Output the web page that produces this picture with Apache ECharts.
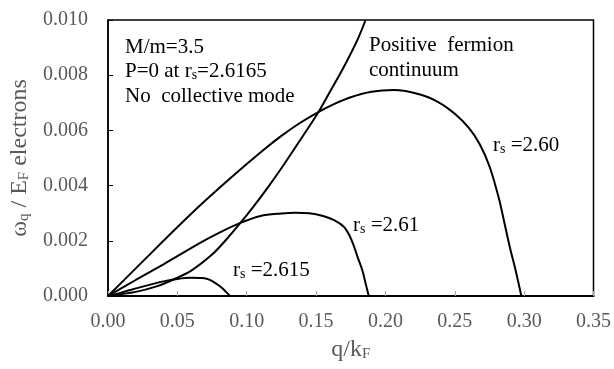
<!DOCTYPE html>
<html><head><meta charset="utf-8">
<script src="https://cdn.jsdelivr.net/npm/echarts@6/dist/echarts.min.js"></script>
<style>html,body{margin:0;padding:0;background:#fff}#c{width:614px;height:369px}</style>
</head><body><div id="c"></div>
<script>
// Data (x = q/kF, y = omega_q/EF)
var continuumX = [0, 0.02, 0.035, 0.0464, 0.06, 0.075, 0.085, 0.095, 0.105, 0.115, 0.125, 0.135, 0.1512, 0.16, 0.17, 0.18, 0.1857];
var continuumY = [0, 0.00015, 0.00035, 0.00058, 0.00092, 0.0015, 0.00203, 0.00262, 0.00325, 0.00392, 0.00463, 0.00538, 0.00662, 0.0074, 0.0083, 0.0093, 0.0100];

var rs260X = [0, 0.02, 0.04, 0.06, 0.08, 0.10, 0.1125, 0.125, 0.1375, 0.15, 0.1625, 0.175, 0.19, 0.206, 0.225, 0.239, 0.25, 0.26, 0.268, 0.275, 0.282, 0.286, 0.290, 0.294, 0.298];
var rs260Y = [0, 0.001, 0.002, 0.00298, 0.0039, 0.00478, 0.00531, 0.0058, 0.00624, 0.00662, 0.00694, 0.0072, 0.0074, 0.00746, 0.0073, 0.0070, 0.0066, 0.0061, 0.0055, 0.0047, 0.0035, 0.0026, 0.0017, 0.0009, 0];

var rs261X = [0, 0.02, 0.04, 0.068, 0.08, 0.095, 0.11, 0.125, 0.135, 0.145, 0.155, 0.163, 0.170, 0.174, 0.1774, 0.180, 0.1833, 0.1855, 0.188];
var rs261Y = [0, 0.00058, 0.00115, 0.00197, 0.00229, 0.00264, 0.0029, 0.00299, 0.00302, 0.0030, 0.0029, 0.00275, 0.00251, 0.0022, 0.00179, 0.0014, 0.00094, 0.0005, 0];

var rs2615X = [0, 0.01, 0.025, 0.04, 0.05, 0.06, 0.068, 0.0726, 0.078, 0.082, 0.085, 0.088];
var rs2615Y = [0, 0.00013, 0.00034, 0.00053, 0.00062, 0.00066, 0.00065, 0.0006, 0.00045, 0.0003, 0.00015, 0];

var xTicks = [0, 0.35, 0.05];
var yTicks = [0, 0.010, 0.002];

function pairs(xs, ys){ return xs.map(function(x,i){ return [x, ys[i]]; }); }

var FONT = "'Times New Roman', 'Liberation Serif', 'DejaVu Serif', serif";
var chart = echarts.init(document.getElementById('c'));
function lineSeries(name, xs, ys){
  return { name: name, type: 'line', data: pairs(xs, ys), showSymbol: false, smooth: 0.3,
           lineStyle: { color: '#000', width: 2 }, clip: true, silent: true };
}
var sub = { fontFamily: FONT, fontSize: 14, fill: '#000', color: '#000', padding: [8,0,0,0] };
function txt(x, y, s){
  return { type: 'text', x: x, y: y,
    style: { text: s, fontFamily: FONT, fontSize: 21, fill: '#000', verticalAlign: 'middle', align: 'left',
             rich: { s: sub } } };
}
chart.setOption({
  animation: false,
  backgroundColor: '#fff',
  grid: { left: 105, top: 20, right: 19, bottom: 73, show: true, borderColor: '#000', borderWidth: 1.5, backgroundColor: 'transparent' },
  xAxis: {
    type: 'value', min: xTicks[0], max: xTicks[1], interval: xTicks[2],
    name: 'q/k{s|F}', nameLocation: 'middle', nameGap: 42,
    nameTextStyle: { fontFamily: FONT, fontSize: 24, color: '#595959',
      rich: { s: { fontFamily: FONT, fontSize: 15, color: '#595959', padding: [9,0,0,0] } } },
    axisLine: { lineStyle: { color: '#000', width: 2 } },
    axisTick: { inside: true, length: 5, lineStyle: { color: '#aaa' } },
    axisLabel: { fontFamily: FONT, fontSize: 20, color: '#595959', margin: 16, formatter: function(v){ return v.toFixed(2); } },
    splitLine: { show: false }
  },
  yAxis: {
    type: 'value', min: yTicks[0], max: yTicks[1], interval: yTicks[2],
    name: 'ω{s|q} / E{s|F} electrons', nameLocation: 'middle', nameGap: 76,
    nameTextStyle: { fontFamily: FONT, fontSize: 24, color: '#595959',
      rich: { s: { fontFamily: FONT, fontSize: 15, color: '#595959', padding: [9,0,0,0] } } },
    axisLine: { show: true, lineStyle: { color: '#000', width: 1.5 } },
    axisTick: { show: true, inside: true, length: 5, lineStyle: { color: '#000' } },
    axisLabel: { fontFamily: FONT, fontSize: 20, color: '#595959', margin: 20, formatter: function(v){ return v.toFixed(3); } },
    splitLine: { show: false }
  },
  series: [
    lineSeries('continuum', continuumX, continuumY),
    lineSeries('rs=2.60', rs260X, rs260Y),
    lineSeries('rs=2.61', rs261X, rs261Y),
    lineSeries('rs=2.615', rs2615X, rs2615Y)
  ],
  graphic: [
    txt(125, 47, 'M/m=3.5'),
    txt(125, 71, 'P=0 at r{s|s}=2.6165'),
    txt(125, 96, 'No  collective mode'),
    txt(369, 45, 'Positive  fermion'),
    txt(369, 70, 'continuum'),
    txt(493, 145, 'r{s|s} =2.60'),
    txt(353, 225, 'r{s|s} =2.61'),
    txt(233, 270, 'r{s|s} =2.615')
  ]
});
</script></body></html>
